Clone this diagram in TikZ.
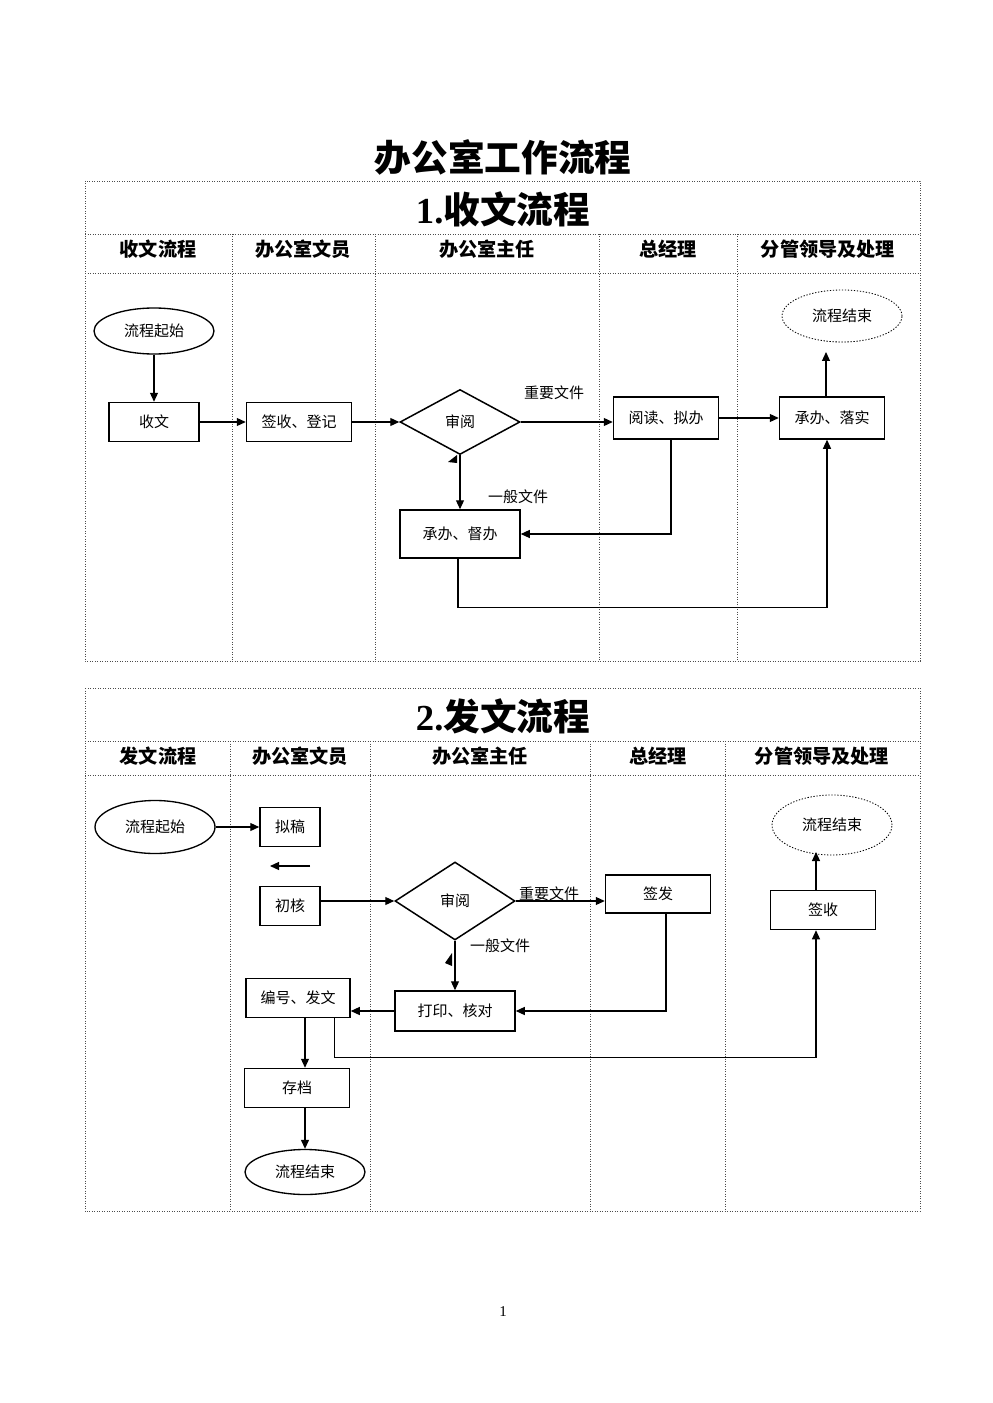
\documentclass[tikz,border=0pt]{standalone}
\usepackage{fontspec}
\setmainfont{Liberation Serif}
\newfontfamily\cjk{Noto Sans CJK SC}
\usetikzlibrary{arrows.meta,shapes.geometric}

\tikzset{
  grid/.style={densely dotted, line width=0.5pt, black!70},
  box/.style={draw, rectangle, line width=0.9pt, inner sep=0pt, font=\cjk\fontsize{9}{10}\selectfont},
  dia/.style={draw, diamond, line width=0.9pt, inner sep=0pt, font=\cjk\fontsize{9}{10}\selectfont},
  oval/.style={draw, ellipse, line width=0.8pt, inner sep=0pt, font=\cjk\fontsize{9}{10}\selectfont},
  ovaldot/.style={oval, densely dotted, line width=0.5pt},
  lbl/.style={font=\cjk\fontsize{9}{10}\selectfont},
  head/.style={font=\cjk\bfseries\fontsize{11.5}{12}\selectfont},
  ttl/.style={font=\bfseries\fontsize{22}{24}\selectfont},
  arr/.style={line width=0.7pt, -{Triangle[length=5.4pt,width=4.8pt]}},
  ln/.style={line width=0.7pt}
}

\begin{document}
\begin{tikzpicture}[x=0.6pt, y=-0.6pt]
  \useasboundingbox (0,0) rectangle (992,1403);

  \node[ttl] (title) at (503,157) {\cjk 办公室工作流程};

  % table 1
  \draw[grid] (85,181) rectangle (920,661);
  \draw[grid] (85,234) -- (920,234);
  \draw[grid] (85,273) -- (920,273);
  \foreach \x in {232,375,599,737}
    \draw[grid] (\x,234) -- (\x,661);
  \node[ttl] (t1) at (503,209) {1.\cjk 收文流程};
  \node[head] (h11) at (158,249) {收文流程};
  \node[head] (h12) at (303,249) {办公室文员};
  \node[head] (h13) at (487,249) {办公室主任};
  \node[head] (h14) at (668,249) {总经理};
  \node[head] (h15) at (828,249) {分管领导及处理};

  \node[oval, minimum width=72pt, minimum height=27.6pt] (qs1) at (154,331) {流程起始};
  \node[box, minimum width=54pt, minimum height=23.4pt] (sw1) at (154,422) {收文};
  \node[box, minimum width=63pt, minimum height=23.4pt] (dj1) at (299,422) {签收、登记};
  \node[dia, minimum width=72pt, minimum height=39pt] (sy1) at (460,422) {审阅};
  \node[box, minimum width=63pt, minimum height=25.2pt] (yd1) at (666,418) {阅读、拟办};
  \node[box, minimum width=63pt, minimum height=25.2pt] (ls1) at (832,418) {承办、落实};
  \node[ovaldot, minimum width=72pt, minimum height=31.2pt] (js1) at (842,316) {流程结束};
  \coordinate (up1) at (826,352);
  \node[box, minimum width=72pt, minimum height=28.8pt] (db1) at (460,534) {承办、督办};
  \node[lbl] (zy1) at (554,393) {重要文件};
  \node[lbl] (yb1) at (518,497) {一般文件};

  \draw[arr] (qs1) -- (sw1);
  \draw[arr] (sw1) -- (dj1);
  \draw[arr] (dj1) -- (sy1);
  \draw[arr] (sy1) -- (sy1 -| yd1.west);
  \draw[arr] (yd1) -- (ls1);
  \draw[arr] (up1 |- ls1.north) -- (up1);
  \draw[arr] (sy1.south) -- (db1.north);
  \draw[arr] ([xshift=3pt]yd1.south) |- (db1.east);
  \draw[arr] ([xshift=-1.2pt]db1.south) -- ++(0,49) -| ([xshift=-3pt]ls1.south);
  \fill (448,462) -- (457,455) -- (457,463) -- cycle;

  % table 2
  \draw[grid] (85,688) rectangle (920,1211);
  \draw[grid] (85,741) -- (920,741);
  \draw[grid] (85,775) -- (920,775);
  \foreach \x in {230,370,590,725}
    \draw[grid] (\x,741) -- (\x,1211);
  \node[ttl] (t2) at (503,716) {2.\cjk 发文流程};
  \node[head] (h21) at (158,756) {发文流程};
  \node[head] (h22) at (300,756) {办公室文员};
  \node[head] (h23) at (480,756) {办公室主任};
  \node[head] (h24) at (658,756) {总经理};
  \node[head] (h25) at (822,756) {分管领导及处理};

  \node[oval, minimum width=72pt, minimum height=31.8pt] (qs2) at (155,827) {流程起始};
  \node[box, minimum width=36pt, minimum height=23.4pt] (ng2) at (290,827) {拟稿};
  \coordinate (la) at (310,866);
  \coordinate (lb) at (270,866);
  \node[box, minimum width=36pt, minimum height=23.4pt] (ch2) at (290,906) {初核};
  \node[dia, minimum width=72pt, minimum height=46.8pt] (sy2) at (455,901) {审阅};
  \node[box, minimum width=63pt, minimum height=22.8pt] (qf2) at (658,894) {签发};
  \node[box, minimum width=72pt, minimum height=24pt] (dy2) at (455,1011) {打印、核对};
  \node[box, minimum width=62.4pt, minimum height=23.4pt] (bh2) at (298,998) {编号、发文};
  \node[box, minimum width=63pt, minimum height=23.4pt] (cd2) at (297,1088) {存档};
  \node[oval, minimum width=72pt, minimum height=27pt] (js2) at (305,1172) {流程结束};
  \node[box, minimum width=63pt, minimum height=23.4pt] (qs3) at (823,910) {签收};
  \coordinate (up2) at (816,852);
  \node[ovaldot, minimum width=72pt, minimum height=36pt] (js3) at (832,825) {流程结束};
  \node[lbl] (zy2) at (549,894) {重要文件};
  \node[lbl] (yb2) at (500,946) {一般文件};

  \draw[arr] (qs2) -- (ng2);
  \draw[arr] (la) -- (lb);
  \draw[arr] (ch2.east |- sy2.west) -- (sy2.west);
  \draw[arr] (sy2) -- (sy2 -| qf2.west);
  \draw[arr] (sy2.south) -- (dy2.north);
  \draw[arr] ([xshift=4.8pt]qf2.south) |- (dy2.east);
  \draw[arr] (dy2.west) -- (dy2.west -| bh2.east);
  \draw[arr] ([xshift=4.2pt]bh2.south) -- ([xshift=4.2pt]bh2.south |- cd2.north);
  \draw[arr] (js2.north |- cd2.south) -- (js2);
  \draw[arr] ([xshift=22pt]bh2.south) -- ++(0,39) -| (up2 |- qs3.south);
  \draw[arr] (up2 |- qs3.north) -- (up2);
  \fill (445,963) -- (452,953) -- (452,966) -- cycle;

  \node (pg) at (503,1312) {\fontsize{9}{10}\selectfont 1};
\end{tikzpicture}
\end{document}
